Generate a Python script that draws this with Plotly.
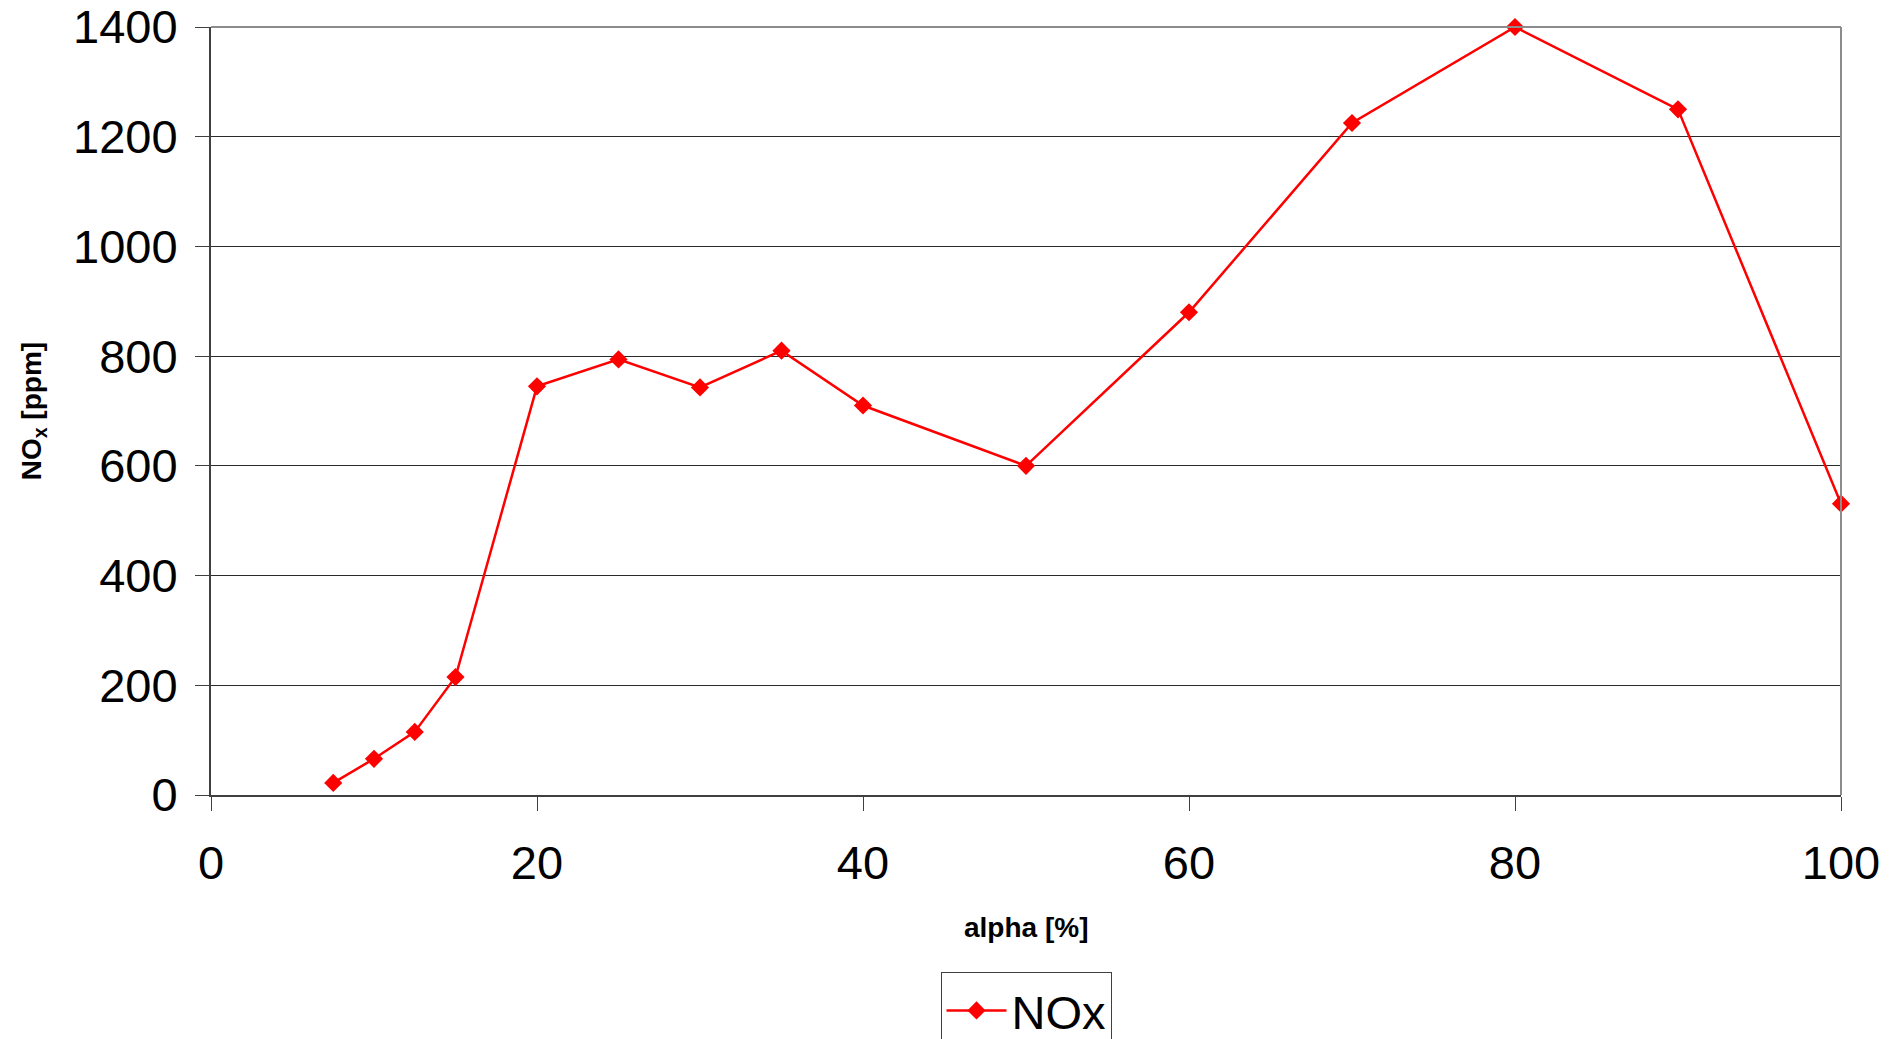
import plotly.graph_objects as go

alpha = [7.5, 10, 12.5, 15, 20, 25, 30, 35, 40, 50, 60, 70, 80, 90, 100]
nox = [22, 66, 115, 215, 745, 794, 743, 810, 710, 600, 880, 1225, 1400, 1250, 531]
x_ticks = [0, 20, 40, 60, 80, 100]
y_ticks = [0, 200, 400, 600, 800, 1000, 1200, 1400]

FONT = "Liberation Sans, Arial, sans-serif"

fig = go.Figure()
fig.add_trace(go.Scatter(
    x=alpha, y=nox, mode="lines+markers", name="NOx",
    line=dict(color="#ff0000", width=2.5),
    marker=dict(symbol="diamond", size=14, color="#ff0000"),
    cliponaxis=False,
))

fig.update_layout(
    width=1904, height=1039,
    margin=dict(l=203, r=71, t=19, b=252, autoexpand=False),
    paper_bgcolor="white", plot_bgcolor="white",
    font=dict(family=FONT, color="black"),
    showlegend=True,
    legend=dict(
        x=0.5, xanchor="center", y=-0.231, yanchor="top",
        orientation="h",
        bordercolor="#404040", borderwidth=1,
        font=dict(size=47, family=FONT),
        itemwidth=60,
    ),
    xaxis=dict(
        range=[0, 100], tickvals=x_ticks, showgrid=False, zeroline=False,
        showline=True, linecolor="#404040", linewidth=2,
        ticks="outside", ticklen=14, tickcolor="#404040", tickwidth=1,
        ticklabelstandoff=12, ticklabeloverflow="allow",
        tickfont=dict(size=47, family=FONT),
    ),
    yaxis=dict(
        range=[0, 1400], tickvals=y_ticks, showgrid=True, gridcolor="#2a2a2a", gridwidth=1,
        zeroline=False, showline=True, linecolor="#404040", linewidth=2,
        ticks="outside", ticklen=14, tickcolor="#404040", tickwidth=1,
        ticklabelstandoff=8, ticklabeloverflow="allow",
        tickfont=dict(size=47, family=FONT),
    ),
    shapes=[
        dict(type="line", xref="paper", yref="paper", x0=0, x1=1, y0=1, y1=1,
             line=dict(color="#8c8c8c", width=2)),
        dict(type="line", xref="paper", yref="paper", x0=1, x1=1, y0=0, y1=1,
             line=dict(color="#8c8c8c", width=2)),
    ],
    annotations=[
        dict(text="<b>alpha [%]</b>", xref="paper", yref="paper", x=0.5, y=-0.173,
             showarrow=False, xanchor="center", yanchor="middle",
             font=dict(size=28, family=FONT)),
        dict(text="<b>NO<sub>x</sub> [ppm]</b>", xref="paper", yref="paper", x=-0.109, y=0.5,
             showarrow=False, xanchor="center", yanchor="middle", textangle=-90,
             font=dict(size=28, family=FONT)),
    ],
)

fig.write_html("out.html")
